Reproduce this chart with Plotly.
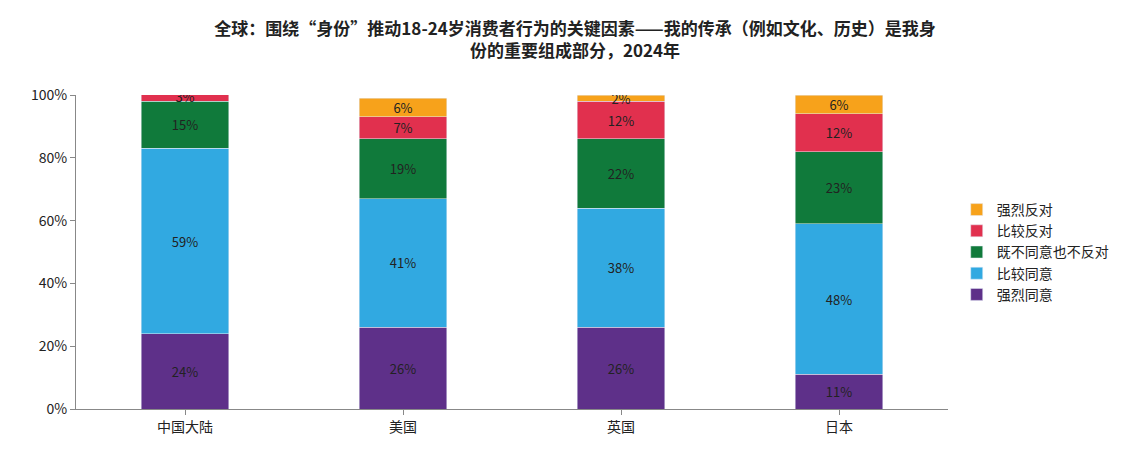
import plotly.graph_objects as go

categories = ["中国大陆", "美国", "英国", "日本"]
series_names = ["强烈同意", "比较同意", "既不同意也不反对", "比较反对", "强烈反对"]
strongly_agree = [24, 26, 26, 11]
agree = [59, 41, 38, 48]
neutral = [15, 19, 22, 23]
disagree = [3, 7, 12, 12]
strongly_disagree = [0, 6, 2, 6]
colors = ["#5E3089", "#31A9E1", "#107A3B", "#E1304E", "#F7A21B"]

fig = go.Figure()
for name, vals, color in zip(series_names,
                             [strongly_agree, agree, neutral, disagree, strongly_disagree],
                             colors):
    fig.add_trace(go.Bar(
        x=categories, y=vals, name=name, marker_color=color,
        text=[f"{v}%" for v in vals], textposition="inside",
        insidetextanchor="middle", constraintext="none",
        textfont=dict(size=13, color="#222"), width=0.4,
    ))

fig.update_layout(
    barmode="stack",
    width=1134, height=455,
    paper_bgcolor="white", plot_bgcolor="white",
    font=dict(family="Noto Sans CJK SC, Arial, sans-serif", size=13, color="#222"),
    title=dict(text="<b>全球：围绕“身份”推动18-24岁消费者行为的关键因素——我的传承（例如文化、历史）是我身<br>份的重要组成部分，2024年</b>",
               x=0.5, xanchor="center", y=0.94, yanchor="top", font=dict(size=17)),
    margin=dict(l=68, r=194, t=87, b=54),
    xaxis=dict(showline=True, linecolor="#888", ticks="outside", tickcolor="#888",
               tickfont=dict(size=14)),
    yaxis=dict(range=[0, 100], dtick=20, ticksuffix="%", showline=True, linecolor="#888",
               ticks="outside", tickcolor="#888", showgrid=False, tickfont=dict(size=14)),
    legend=dict(traceorder="reversed", x=1.01, y=0.5, yanchor="middle",
                font=dict(size=14), itemwidth=30, tracegroupgap=8),
    uniformtext=dict(minsize=8, mode="show"),
)

fig.write_html("out.html")
